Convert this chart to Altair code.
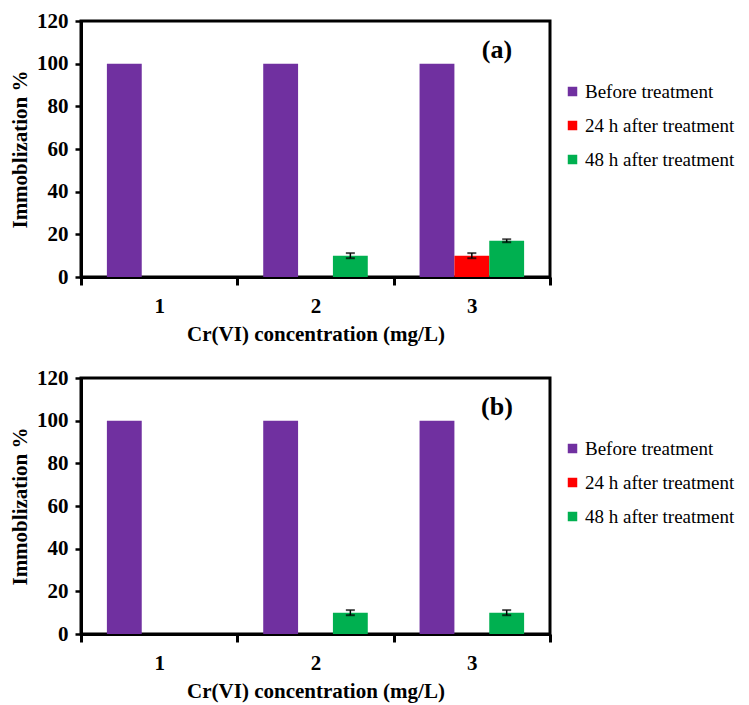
import altair as alt
import pandas as pd

concentrations = ["1", "2", "3"]
treatments = ["Before treatment", "\u00a024 h after treatment", "48 h after treatment"]
colors = ["#7030A0", "#FF0000", "#00B050"]

# panel (a)
a_before = [100, 100, 100]
a_24h = [0, 0, 10]
a_48h = [0, 10, 17]
a_err_before = [0, 0, 0]
a_err_24h = [0, 0, 1.2]
a_err_48h = [0, 1.2, 0.7]

# panel (b)
b_before = [100, 100, 100]
b_24h = [0, 0, 0]
b_48h = [0, 10, 10]
b_err_before = [0, 0, 0]
b_err_24h = [0, 0, 0]
b_err_48h = [0, 1.2, 1.2]

FONT = "Liberation Serif"
W, H = 469, 256


def make_df(series, errs):
    rows = []
    for t, vals, es in zip(treatments, series, errs):
        for c, v, e in zip(concentrations, vals, es):
            rows.append({"conc": c, "treatment": t, "value": v, "err": e,
                         "lo": v - e, "hi": v + e})
    return pd.DataFrame(rows)


def panel(df, label):
    base = alt.Chart(df).encode(
        x=alt.X("conc:N", sort=concentrations,
                scale=alt.Scale(paddingInner=0, paddingOuter=0),
                axis=alt.Axis(title="Cr(VI) concentration (mg/L)", labelAngle=0,
                              tickBand="extent", tickSize=8, tickWidth=3,
                              labelPadding=10, titlePadding=7,
                              domainWidth=3, domainColor="black", tickColor="black")),
        xOffset=alt.XOffset("treatment:N", sort=treatments,
                            scale=alt.Scale(paddingInner=0, paddingOuter=0.743)),
    )
    bars = base.mark_bar().encode(
        y=alt.Y("value:Q", scale=alt.Scale(domain=[0, 120]),
                axis=alt.Axis(title="Immoblization %", values=[0, 20, 40, 60, 80, 100, 120],
                              tickSize=6, tickWidth=2.5, labelPadding=7, titlePadding=6,
                              domainWidth=3, domainColor="black", tickColor="black",
                              grid=False)),
        color=alt.Color("treatment:N", sort=treatments,
                        scale=alt.Scale(domain=treatments, range=colors),
                        legend=alt.Legend(title=None, orient="none", legendX=482, legendY=61,
                                          symbolType="square", symbolSize=90,
                                          symbolStrokeWidth=0, labelFont=FONT,
                                          labelFontSize=19, labelColor="black",
                                          labelLimit=400,
                                          rowPadding=14, padding=0, labelOffset=3)),
    )
    err_df = base.transform_filter("datum.err > 0")
    rules = err_df.mark_rule(color="black", strokeWidth=1.5).encode(
        y="lo:Q", y2="hi:Q")
    cap_lo = err_df.mark_tick(color="black", thickness=2, size=9).encode(y="lo:Q")
    cap_hi = err_df.mark_tick(color="black", thickness=2, size=9).encode(y="hi:Q")
    txt = alt.Chart(pd.DataFrame({"t": [label]})).mark_text(
        font=FONT, fontSize=26, fontWeight="bold", color="black"
    ).encode(text="t:N", x=alt.value(416), y=alt.value(29))
    return alt.layer(bars, rules, cap_lo, cap_hi, txt).properties(width=W, height=H)


df_a = make_df([a_before, a_24h, a_48h], [a_err_before, a_err_24h, a_err_48h])
df_b = make_df([b_before, b_24h, b_48h], [b_err_before, b_err_24h, b_err_48h])

chart = alt.vconcat(panel(df_a, "(a)"), panel(df_b, "(b)"), spacing=19).resolve_scale(
    color="independent"
).resolve_legend(color="independent").properties(
    padding=0, background="white"
).configure_view(
    stroke="black", strokeWidth=3
).configure_axis(
    labelFont=FONT, titleFont=FONT, labelFontSize=21, titleFontSize=21,
    labelFontWeight="bold", titleFontWeight="bold", labelColor="black", titleColor="black"
).configure_legend(
    labelFont=FONT
)

chart.save("out.html", embed_options={"renderer": "svg", "actions": False})
